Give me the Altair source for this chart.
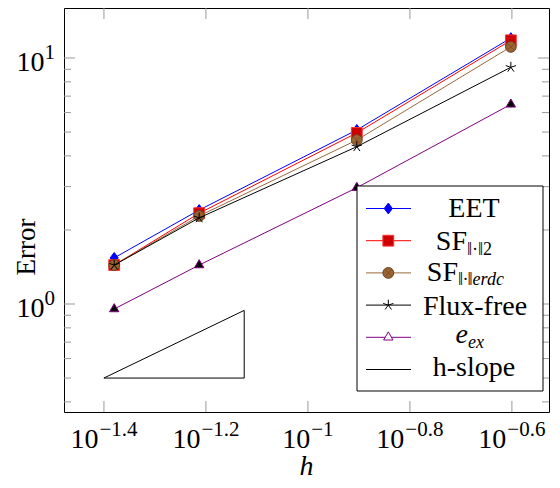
import altair as alt
import pandas as pd

# ---------------- data ----------------
h = [0.0417, 0.0612, 0.1247, 0.2500]
eet = [1.54, 2.41, 5.10, 12.05]
sf2 = [1.44, 2.34, 4.96, 11.8]
sferdc = [1.44, 2.28, 4.64, 11.1]
fluxfree = [1.44, 2.24, 4.36, 9.17]
eex = [0.954, 1.44, 2.97, 6.48]

slope_h = [0.0398, 0.0750, 0.0750, 0.0398]
slope_err = [0.500, 0.942, 0.500, 0.500]

x_ticks = [10 ** -1.4, 10 ** -1.2, 10 ** -1.0, 10 ** -0.8, 10 ** -0.6]
x_exps = ["\u22121.4", "\u22121.2", "\u22121", "\u22120.8", "\u22120.6"]
y_major = [1.0, 10.0]
y_exps = ["0", "1"]
y_minor = [0.4, 0.5, 0.6, 0.7, 0.8, 0.9, 2, 3, 4, 5, 6, 7, 8, 9]

x_domain = [0.03324, 0.2970]
y_domain = [0.3639, 15.97]

# ---------------- layout / style ----------------
W, H = 485, 404
FONT = "Liberation Serif"
FS, FSE = 28, 21
FL, FLS = 28, 18
TICK_COLOR = "#999999"

xs = alt.Scale(type="log", domain=x_domain, nice=False)
ys = alt.Scale(type="log", domain=y_domain, nice=False)

DIAMOND = "M0,-1L0.75,0L0,1L-0.75,0Z"
TRIANGLE = "M0,-1L0.866,0.5L-0.866,0.5Z"
STAR = "M0,0L0,-1M0,0L0.951,-0.309M0,0L0.588,0.809M0,0L-0.588,0.809M0,0L-0.951,-0.309"
XCROSS = "M-0.707,-0.707L0.707,0.707M-0.707,0.707L0.707,-0.707"
MSIZE = 117

series = [
    ("EET", eet, "#0000ff",
     [dict(shape=DIAMOND, fill="#0000ff", stroke="#0000ff", strokeWidth=1)],
     [dict(shape=DIAMOND, fill="#0000ff", stroke="#0000ff", strokeWidth=1)]),
    ("SF2", sf2, "#ff0000",
     [dict(shape="square", fill="#cc0000", stroke="#ff3333", strokeWidth=1)],
     [dict(shape="square", fill="#cc0000", stroke="#ff3333", strokeWidth=1)]),
    ("SFerdc", sferdc, "#9a6a3a",
     [dict(shape="circle", fill="#9c6431", stroke="#6b4423", strokeWidth=1),
      dict(shape=XCROSS, fill="none", stroke="#6b4423", strokeWidth=0.6)],
     [dict(shape="circle", fill="#9c6431", stroke="#6b4423", strokeWidth=1),
      dict(shape=XCROSS, fill="none", stroke="#6b4423", strokeWidth=0.6)]),
    ("Flux-free", fluxfree, "#000000",
     [dict(shape=STAR, fill="none", stroke="#000000", strokeWidth=1)],
     [dict(shape=STAR, fill="none", stroke="#000000", strokeWidth=1)]),
    ("eex", eex, "#800080",
     [dict(shape=TRIANGLE, fill="#000000", stroke="#800080", strokeWidth=1)],
     [dict(shape=TRIANGLE, fill="#ffffff", stroke="#800080", strokeWidth=1)]),
]

one = pd.DataFrame({"a": [0]})
layers = []

# ---------------- data series ----------------
for name, vals, color, mks, _ in series:
    df = pd.DataFrame({"h": h, "err": vals})
    base = alt.Chart(df).encode(
        x=alt.X("h:Q", scale=xs, axis=None),
        y=alt.Y("err:Q", scale=ys, axis=None),
    )
    layers.append(base.mark_line(color=color, strokeWidth=1))
    for m in mks:
        layers.append(base.mark_point(size=MSIZE, opacity=1, filled=True, **m))

# h-slope triangle
sdf = pd.DataFrame({"h": slope_h, "err": slope_err, "i": list(range(len(slope_h)))})
layers.append(
    alt.Chart(sdf).mark_line(color="black", strokeWidth=1).encode(
        x=alt.X("h:Q", scale=xs, axis=None),
        y=alt.Y("err:Q", scale=ys, axis=None),
        order="i:Q",
    )
)

# ---------------- ticks (inward, on all four sides) ----------------
xt = pd.DataFrame({"h": x_ticks})
for y0, y1 in [(H, H - 11), (0, 11)]:
    layers.append(
        alt.Chart(xt).mark_rule(color=TICK_COLOR, strokeWidth=1).encode(
            x=alt.X("h:Q", scale=xs, axis=None), y=alt.value(y0), y2=alt.value(y1)
        )
    )
ymaj = pd.DataFrame({"err": y_major, "e": y_exps})
ymin = pd.DataFrame({"err": y_minor})
for df, ln in [(ymaj, 11), (ymin, 7)]:
    for x0, x1 in [(0, ln), (W, W - ln)]:
        layers.append(
            alt.Chart(df).mark_rule(color=TICK_COLOR, strokeWidth=1).encode(
                y=alt.Y("err:Q", scale=ys, axis=None), x=alt.value(x0), x2=alt.value(x1)
            )
        )

# ---------------- tick labels ----------------
GW = {"\u2212": 0.564, ".": 0.25}


def exp_width(s):
    return sum(GW.get(c, 0.5) for c in s) * FSE


bw = 1.0 * FS
for t, e in zip(x_ticks, x_exps):
    tot = bw + exp_width(e) + 1
    xr = -tot / 2 + bw
    d = pd.DataFrame({"h": [t]})
    layers.append(
        alt.Chart(d).mark_text(text="10", font=FONT, fontSize=FS, align="right",
                               baseline="alphabetic", dx=xr, color="black").encode(
            x=alt.X("h:Q", scale=xs, axis=None), y=alt.value(440))
    )
    layers.append(
        alt.Chart(d).mark_text(text=e, font=FONT, fontSize=FSE, align="left",
                               baseline="alphabetic", dx=xr + 1, color="black").encode(
            x=alt.X("h:Q", scale=xs, axis=None), y=alt.value(428))
    )

layers.append(
    alt.Chart(ymaj).mark_text(text="10", font=FONT, fontSize=FS, align="right",
                              baseline="alphabetic", dy=12.5, color="black").encode(
        y=alt.Y("err:Q", scale=ys, axis=None), x=alt.value(-9 - 0.5 * FSE))
)
layers.append(
    alt.Chart(ymaj).mark_text(font=FONT, fontSize=FSE, align="right",
                              baseline="alphabetic", dy=0.5, color="black").encode(
        y=alt.Y("err:Q", scale=ys, axis=None), x=alt.value(-9), text="e:N")
)

# axis titles
layers.append(
    alt.Chart(one).mark_text(text="h", font=FONT, fontSize=FS, fontStyle="italic",
                             align="center", baseline="alphabetic", color="black").encode(
        x=alt.value(W / 2), y=alt.value(467))
)
layers.append(
    alt.Chart(one).mark_text(text="Error", font=FONT, fontSize=27, angle=270,
                             align="center", baseline="middle", color="black").encode(
        x=alt.value(-37), y=alt.value(239))
)

# ---------------- legend ----------------
LX0, LX1, LY0, LY1 = 293, 479, 178, 383
layers.append(
    alt.Chart(one).mark_rect(fill="white", stroke="black", strokeWidth=1).encode(
        x=alt.value(LX0), x2=alt.value(LX1), y=alt.value(LY0), y2=alt.value(LY1))
)
rows_y = [200.5 + i * 32.2 for i in range(6)]
legend_items = [(c, lmk) for _, _, c, _, lmk in series] + [("#000000", [])]
for ry, (color, lmk) in zip(rows_y, legend_items):
    layers.append(
        alt.Chart(one).mark_rule(color=color, strokeWidth=1).encode(
            x=alt.value(302), x2=alt.value(347), y=alt.value(ry))
    )
    for m in lmk:
        layers.append(
            alt.Chart(one).mark_point(size=MSIZE, opacity=1, filled=True, **m).encode(
                x=alt.value(324.3), y=alt.value(ry))
        )

# label pieces: (row, text, x, dy, align, size, style)
label_pieces = [
    (0, "EET", 410, 8.5, "center", FL, "normal"),
    (1, "SF", 403, 9, "right", FL, "normal"),
    (1, "\u2016\u00b7\u20162", 403, 14.5, "left", FLS, "normal"),
    (2, "SF", 394, 8.5, "right", FL, "normal"),
    (2, "\u2016\u00b7\u2016erdc", 394, 12.5, "left", FLS, "italic"),
    (3, "Flux-free", 411, 9.5, "center", FL, "normal"),
    (4, "e", 404, 6, "right", FL, "italic"),
    (4, "ex", 404, 11, "left", FLS, "italic"),
    (5, "h-slope", 410, 6.5, "center", FL, "normal"),
]
for r, txt, lx, dy, al, fs, st in label_pieces:
    layers.append(
        alt.Chart(one).mark_text(text=txt, font=FONT, fontSize=fs, fontStyle=st, align=al,
                                 baseline="alphabetic", color="black").encode(
            x=alt.value(lx), y=alt.value(rows_y[r] + dy))
    )

chart = (
    alt.layer(*layers)
    .properties(
        width=W,
        height=H,
        autosize=alt.AutoSizeParams(type="none"),
        padding={"left": 56, "top": 0, "right": 3, "bottom": 68},
    )
    .configure_view(stroke="black", strokeWidth=1)
)

chart.save("out.html", embed_options={"renderer": "svg", "actions": False})
